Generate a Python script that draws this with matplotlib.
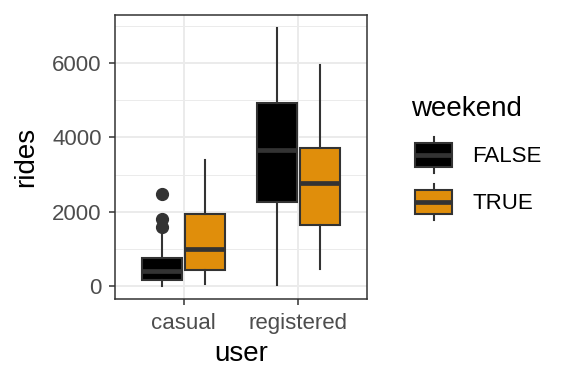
import matplotlib
matplotlib.use("Agg")
import matplotlib.pyplot as plt
from matplotlib.legend_handler import HandlerBase
from matplotlib.patches import Rectangle, Patch
from matplotlib.lines import Line2D

plt.rcParams['font.family'] = ['Liberation Sans', 'DejaVu Sans']

# data (five-number summaries per group)
users = ['casual', 'registered']
groups = ['FALSE', 'TRUE']
colors = ['#000000', '#E08E0B']

# weekend == FALSE
false_q1 = [179, 2273]
false_med = [420, 3655]
false_q3 = [759, 4920]
false_lo = [2, 20]
false_hi = [1428, 6946]
false_out = [[2471, 1810, 1604], []]

# weekend == TRUE
true_q1 = [447, 1642]
true_med = [1000, 2781]
true_q3 = [1936, 3728]
true_lo = [54, 465]
true_hi = [3388, 5947]
true_out = [[], []]

series = [
    (false_q1, false_med, false_q3, false_lo, false_hi, false_out),
    (true_q1, true_med, true_q3, true_lo, true_hi, true_out),
]

edge = '#333333'
fig = plt.figure(figsize=(5.76, 3.84), dpi=100)
ax = fig.add_axes([115/576, 1-299/384, 252/576, 284/384])

offsets = [-0.1875, 0.1875]
for k, (q1, med, q3, lo, hi, out) in enumerate(series):
    stats = []
    for i in range(len(users)):
        stats.append(dict(q1=q1[i], med=med[i], q3=q3[i], whislo=lo[i],
                          whishi=hi[i], fliers=out[i]))
    pos = [i + 1 + offsets[k] for i in range(len(users))]
    ax.bxp(stats, positions=pos, widths=0.35, patch_artist=True, showcaps=False,
           boxprops=dict(facecolor=colors[k], edgecolor=edge, linewidth=1.5),
           whiskerprops=dict(color=edge, linewidth=1.5),
           medianprops=dict(color=edge, linewidth=3.4, solid_capstyle='butt'),
           flierprops=dict(marker='o', markerfacecolor=edge, markeredgecolor=edge,
                           markersize=8.5),
           zorder=3)

allvals = false_lo + false_hi + true_lo + true_hi + sum(false_out, []) + sum(true_out, [])
lo_all, hi_all = min(allvals), max(allvals)
padv = 0.05 * (hi_all - lo_all)
ax.set_ylim(lo_all - padv, hi_all + padv)
ax.set_xlim(0.4, 2.6)
ax.set_xticks([1, 2])
ax.set_xticklabels(users)
ax.set_yticks([0, 2000, 4000, 6000])
ax.set_yticks([1000, 3000, 5000, 7000], minor=True)

ax.grid(True, which='major', color='#EBEBEB', linewidth=1.4, zorder=0)
ax.grid(True, which='minor', axis='y', color='#EBEBEB', linewidth=0.7, zorder=0)
ax.set_axisbelow(True)
for s in ax.spines.values():
    s.set_color(edge)
    s.set_linewidth(1.1)
ax.tick_params(which='major', length=4, width=1.1, color=edge, labelsize=16,
               labelcolor='#4D4D4D')
ax.tick_params(axis='x', pad=6)
ax.tick_params(axis='y', pad=5.5)
ax.tick_params(which='minor', length=0)

ax.set_xlabel('user', fontsize=20, labelpad=5)
ax.set_ylabel('rides', fontsize=20, labelpad=9.5)


class BoxKey(HandlerBase):
    def create_artists(self, legend, orig, xd, yd, width, height, fontsize, trans):
        H = 1.62 * fontsize      # whisker to whisker
        bw = 1.67 * fontsize     # box width
        bh = H * 0.667
        cy = -yd + height / 2
        x1 = -xd + width
        x0 = x1 - bw
        cx = (x0 + x1) / 2
        w1 = Line2D([cx, cx], [cy - H / 2, cy - bh / 2], color=edge, lw=1.5)
        w2 = Line2D([cx, cx], [cy + bh / 2, cy + H / 2], color=edge, lw=1.5)
        box = Rectangle((x0, cy - bh / 2), bw, bh, facecolor=orig.get_facecolor(),
                        edgecolor=edge, lw=1.5)
        m = Line2D([x0, x1], [cy, cy], color=edge, lw=3.4, solid_capstyle='butt')
        arts = [w1, w2, box, m]
        for a in arts:
            a.set_transform(trans)
        return arts


handles = [Patch(facecolor=c) for c in colors]
leg = fig.legend(handles, groups, title='weekend', loc='upper left',
                 bbox_to_anchor=(411/576, 1-96/384), frameon=False,
                 fontsize=16, title_fontsize=20, borderpad=0, borderaxespad=0,
                 handlelength=1.85, handleheight=2.11, labelspacing=0.47,
                 handletextpad=0.9, alignment='left',
                 handler_map={Patch: BoxKey()})
# a little more room between the title and the keys
leg._legend_box.sep += 3.6

fig.savefig('out.png', dpi=100)
